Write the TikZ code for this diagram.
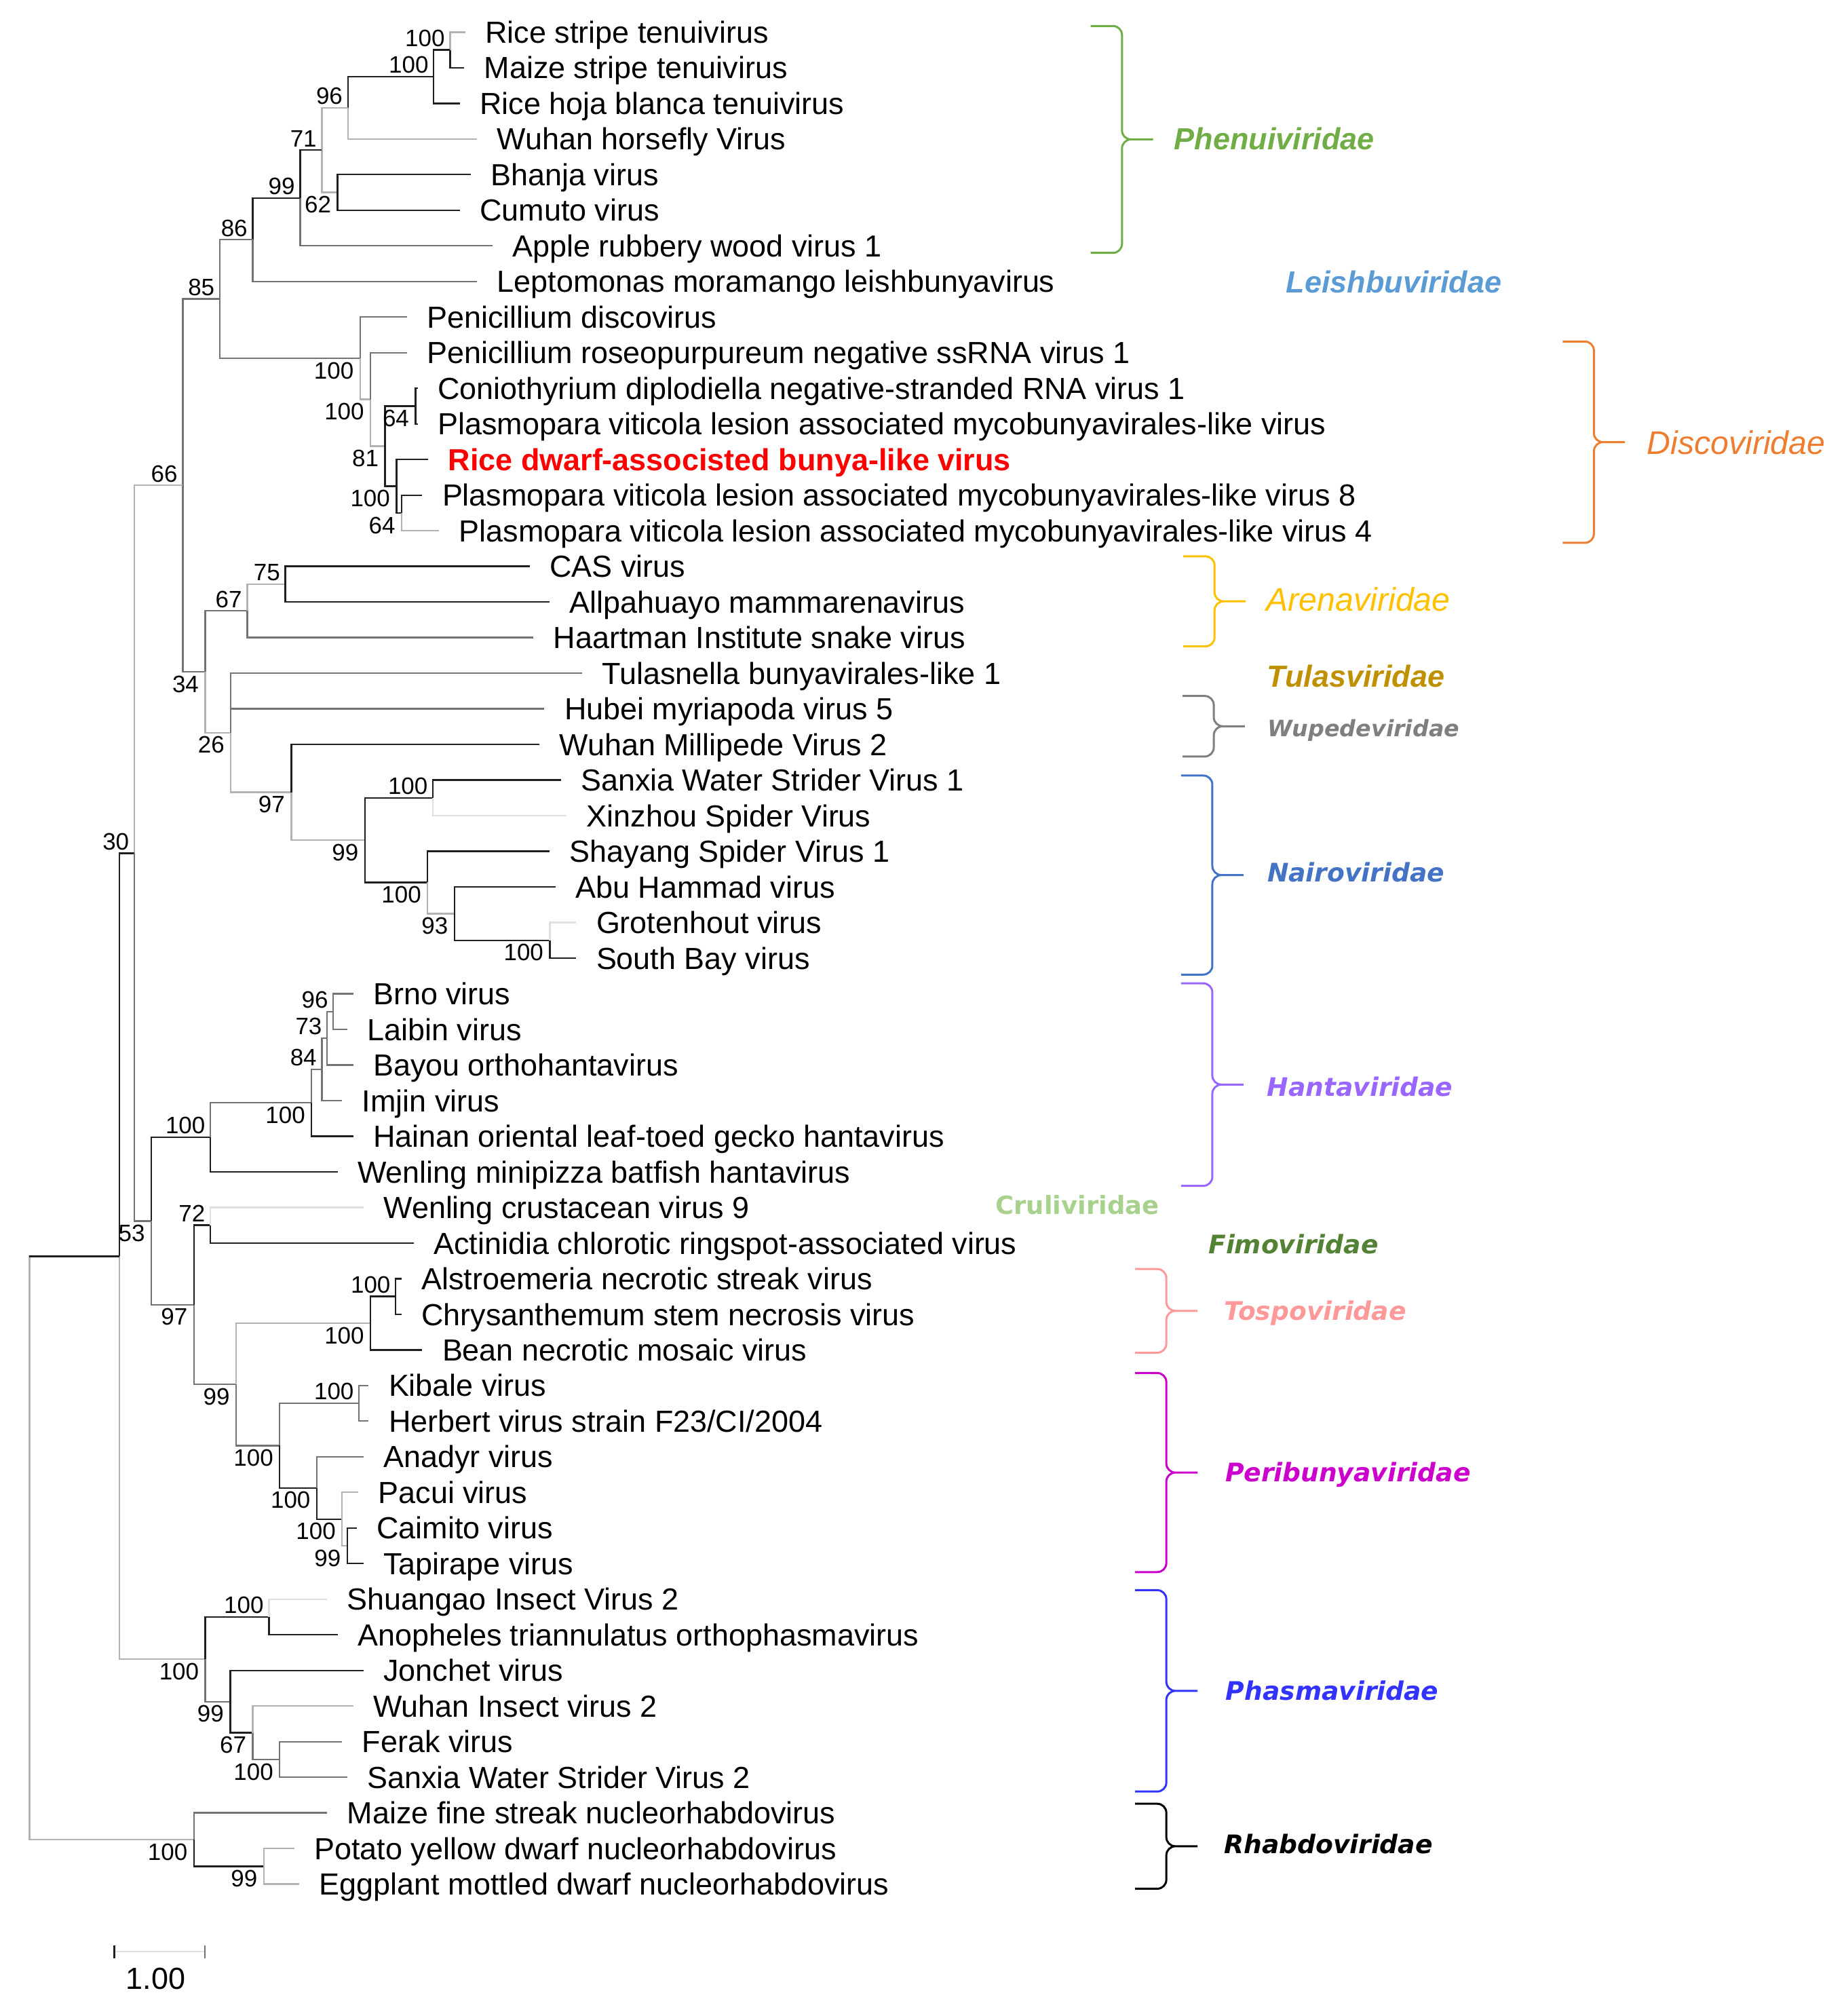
\documentclass[tikz,border=0pt]{standalone}
\usepackage{fontspec}
\setmainfont{Liberation Sans}
\newfontfamily\dvfont{DejaVu Sans}
\definecolor{brdark}{gray}{0.12}
\definecolor{brmid}{gray}{0.45}
\definecolor{brlight}{gray}{0.7}
\definecolor{brfaint}{gray}{0.88}
\definecolor{cphen}{RGB}{112,173,71}
\definecolor{cleish}{RGB}{91,155,213}
\definecolor{cdisc}{RGB}{237,125,49}
\definecolor{carena}{RGB}{255,192,0}
\definecolor{ctulas}{RGB}{191,144,0}
\definecolor{cwupe}{RGB}{127,127,127}
\definecolor{cnairo}{RGB}{68,114,196}
\definecolor{chanta}{RGB}{153,102,255}
\definecolor{ccruli}{RGB}{169,209,142}
\definecolor{cfimo}{RGB}{84,130,53}
\definecolor{ctospo}{RGB}{255,153,153}
\definecolor{cperi}{RGB}{204,0,204}
\definecolor{cphasma}{RGB}{51,51,255}
\definecolor{crhabdo}{RGB}{0,0,0}
\newcommand\tipfont{\fontsize{13.5}{16}\selectfont}
\newcommand\bsfont{\fontsize{10.5}{12}\selectfont}

\begin{document}
\begin{tikzpicture}[x=0.02cm, y=-0.02cm, line width=0.7pt,
  bdark/.style={draw=brdark}, bmid/.style={draw=brmid},
  blight/.style={draw=brlight}, bfaint/.style={draw=brfaint},
  tiplab/.style={anchor=west, inner xsep=0.3cm, inner ysep=0pt, text height=9.7pt, text depth=0pt, font=\tipfont},
  bsa/.style={anchor=south east, inner sep=0pt, text height=7.5pt, text depth=0pt, font=\bsfont, xshift=-2pt, yshift=1.2pt},
  bsb/.style={anchor=north east, inner sep=0pt, text height=7.5pt, text depth=0pt, font=\bsfont, xshift=-2.5pt, yshift=-1.2pt},
  famlab/.style={anchor=west, inner sep=0pt, text depth=0pt},
  famA/.style={font=\fontsize{13.5}{16}\selectfont\bfseries\itshape, text height=9.7pt},
  famR/.style={font=\fontsize{14.5}{17}\selectfont\itshape, text height=10.4pt},
  famV/.style={font=\dvfont\fontsize{11.3}{13}\selectfont\bfseries\itshape, text height=8.2pt},
  famW/.style={font=\dvfont\fontsize{10}{12}\selectfont\bfseries\itshape, text height=7.3pt},
  famC/.style={font=\dvfont\fontsize{11.1}{13}\selectfont\bfseries, text height=8.1pt}]
\useasboundingbox (0,0) rectangle (1434,1568);

\foreach \n/\x/\txt in {1/362/Rice stripe tenuivirus, 2/361/Maize stripe tenuivirus,
    3/357.6/Rice hoja blanca tenuivirus, 4/371.1/Wuhan horsefly Virus, 5/366.2/Bhanja virus,
    6/357.6/Cumuto virus, 7/383/Apple rubbery wood virus 1, 8/371.1/Leptomonas moramango leishbunyavirus,
    9/316.4/Penicillium discovirus, 10/316.4/Penicillium roseopurpureum negative ssRNA virus 1,
    11/325/Coniothyrium diplodiella negative-stranded RNA virus 1,
    12/325/Plasmopara viticola lesion associated mycobunyavirales-like virus,
    14/328.5/Plasmopara viticola lesion associated mycobunyavirales-like virus 8,
    15/341.5/Plasmopara viticola lesion associated mycobunyavirales-like virus 4,
    16/412/CAS virus, 17/427.7/Allpahuayo mammarenavirus, 18/415/Haartman Institute snake virus,
    19/452.8/Tulasnella bunyavirales-like 1, 20/423.5/Hubei myriapoda virus 5,
    21/419.5/Wuhan Millipede Virus 2, 22/436.2/Sanxia Water Strider Virus 1,
    23/440.7/Xinzhou Spider Virus, 24/427.7/Shayang Spider Virus 1, 25/432.2/Abu Hammad virus,
    26/448.3/Grotenhout virus, 27/448.3/South Bay virus, 28/274.7/Brno virus, 29/270.1/Laibin virus,
    30/274.7/Bayou orthohantavirus, 31/266.1/Imjin virus,
    32/274.7/Hainan oriental leaf-toed gecko hantavirus, 33/262.6/Wenling minipizza batfish hantavirus,
    34/282.8/Wenling crustacean virus 9, 35/321.8/Actinidia chlorotic ringspot-associated virus,
    36/312.4/Alstroemeria necrotic streak virus, 37/312.4/Chrysanthemum stem necrosis virus,
    38/328.5/Bean necrotic mosaic virus, 39/286.8/Kibale virus,
    40/286.8/{Herbert virus strain F23/CI/2004}, 41/282.8/Anadyr virus, 42/278.7/Pacui virus,
    43/277.4/Caimito virus, 44/282.8/Tapirape virus, 45/254.5/Shuangao Insect Virus 2,
    46/262.6/Anopheles triannulatus orthophasmavirus, 47/282.8/Jonchet virus,
    48/274.7/Wuhan Insect virus 2, 49/266.1/Ferak virus, 50/270.1/Sanxia Water Strider Virus 2,
    51/254.5/Maize fine streak nucleorhabdovirus, 52/228.9/Potato yellow dwarf nucleorhabdovirus,
    53/232.9/Eggplant mottled dwarf nucleorhabdovirus}
  {\pgfmathsetmacro\yy{25+27.7*(\n-1)}
   \node[tiplab] (t\n) at (\x,\yy) {\txt};}
\node[tiplab, text=red, font=\tipfont\bfseries] (t13) at (333.1,357.4) {Rice dwarf-associsted bunya-like virus};

\foreach \nm/\x/\y in {nA/350.1/38.85, nB/337.4/59.63, nC/270.6/83.86, nD/250.4/116.76,
    nE/262.6/149.65, nF/233.5/153.98, nG/196.6/186.44, nH/171.0/232.53, nI/280.1/278.63,
    nJ/288.2/310.65, nK/299.5/347.0, nL/323.2/315.85, nM/308.4/378.18, nN/312.4/398.95,
    nO/142.2/377.5, nQ/159.6/522.5, nR/192.3/475.13, nT/222.0/454.35, nS/179.6/569.9,
    nU/226.6/616.23, nV/336.8/620.55, nW/283.8/653.45, nX/332.6/686.34, nY/353.5/710.58,
    nZ/427.7/731.35, nP/104.5/663.6, nGa/117.7/949.7, nHa/163.7/884.6, nHb/242.4/857.7,
    nHc/250.4/831.75, nHd/254.5/807.5, nHe/259.3/786.75, nDl/163.7/952.95, nEb/150.8/1014.8,
    nEc/183.7/1076.7, nTa/288.2/1029.1, nTb/307.8/1008.35, nPa/217.6/1124.35, nPb/279.3/1091.45,
    nPc/246.4/1157.25, nPd/266.1/1181.5, nPe/270.1/1202.25, nPi/92.9/977.1, nPh/159.7/1290.55,
    nPha/209.2/1257.65, nPhb/179.1/1323.45, nPhc/196.6/1347.7, nPhd/217.6/1368.45,
    nRa/150.8/1430.8, nRb/205.2/1451.55, nRoot/22.9/1203.95}
  \coordinate (\nm) at (\x,\y);

\foreach \p/\c/\s in {nA/t1/blight, nA/t2/bdark, nB/nA/bdark, nB/t3/bdark, nC/nB/bdark,
    nC/t4/blight, nD/nC/blight, nD/nE/blight, nE/t5/bdark, nE/t6/bdark, nF/nD/bdark, nF/t7/bmid,
    nG/nF/bdark, nG/t8/bmid, nH/nG/bmid, nH/nI/bmid, nI/t9/bmid, nI/nJ/blight, nJ/t10/bmid,
    nJ/nK/blight, nK/nL/bdark, nL/t11/bdark, nL/t12/bdark, nK/nM/bdark, nM/t13/bdark,
    nM/nN/bdark, nN/t14/bdark, nN/t15/blight, nO/nH/bmid, nO/nQ/bmid, nP/nO/blight,
    nQ/nR/bmid, nR/nT/blight, nT/t16/bdark, nT/t17/bdark, nR/t18/bmid, nQ/nS/blight,
    nS/t19/bmid, nS/t20/bmid, nS/nU/blight, nU/t21/bdark, nU/nW/blight, nW/nV/bdark,
    nV/t22/bdark, nV/t23/bfaint, nW/nX/bdark, nX/t24/bdark, nX/nY/blight, nY/t25/bdark,
    nY/nZ/bdark, nZ/t26/bfaint, nZ/t27/bdark, nPi/nP/bdark, nP/nGa/bmid, nGa/nHa/bdark,
    nHa/nHb/bmid, nHa/t33/bdark, nHb/nHc/bmid, nHb/t32/bdark, nHc/nHd/bmid, nHc/t31/bmid,
    nHd/nHe/bmid, nHd/t30/bmid, nHe/t28/bmid, nHe/t29/bmid, nGa/nEb/bmid, nEb/nDl/bdark,
    nDl/t34/bfaint, nDl/t35/bdark, nEb/nEc/bmid, nEc/nTa/blight, nTa/nTb/bdark, nTb/t36/bdark,
    nTb/t37/bdark, nTa/t38/bdark, nEc/nPa/bmid, nPa/nPb/bmid, nPb/t39/bmid, nPb/t40/bmid,
    nPa/nPc/bdark, nPc/t41/bmid, nPc/nPd/bdark, nPd/t42/blight, nPd/nPe/blight, nPe/t43/bdark,
    nPe/t44/bdark, nRoot/nPi/blight, nPi/nPh/blight, nPh/nPha/bdark, nPha/t45/bfaint,
    nPha/t46/bdark, nPh/nPhb/bmid, nPhb/t47/bdark, nPhb/nPhc/bdark, nPhc/t48/blight,
    nPhc/nPhd/bmid, nPhd/t49/bmid, nPhd/t50/bmid, nRoot/nRa/blight, nRa/t51/bmid,
    nRa/nRb/bdark, nRb/t52/blight, nRb/t53/blight}
  \draw[\s] (\p) |- (\c);
\draw[bdark] (nRoot |- nPi) -- (nPi);

\foreach \nd/\v in {nA/100, nB/100, nC/96, nD/71, nF/99, nG/86, nH/85, nO/66, nR/67, nT/75,
    nV/100, nP/30, nHa/100, nHc/84, nHd/73, nHe/96, nDl/72, nTb/100, nPb/100, nPha/100}
  \node[bsa] (b\nd) at (\nd) {\v};
\foreach \nd/\v in {nE/62, nI/100, nJ/100, nK/81, nL/64, nM/100, nN/64, nQ/34, nS/26, nU/97,
    nW/99, nX/100, nY/93, nZ/100, nGa/53, nHb/100, nEb/97, nEc/99, nTa/100, nPa/100, nPc/100,
    nPd/100, nPe/99, nPh/100, nPhb/99, nPhc/67, nPhd/100, nRa/100, nRb/99}
  \node[bsb] (b\nd) at (\nd) {\v};

\foreach \xe/\yt/\yb/\col in {848.5/20.2/196.7/cphen, 1215.6/265.6/422.2/cdisc,
    920.5/432.7/502.7/carena, 919.9/541.3/588.4/cwupe, 918.8/603.2/758.0/cnairo,
    918.8/764.8/922.3/chanta, 883/987/1052.1/ctospo, 883/1067.9/1222.7/cperi,
    883/1236.8/1393.4/cphasma, 883/1402.9/1469/crhabdo}
  \draw[\col, line width=0.9pt, rounded corners=4pt]
    (\xe,\yt) -| ({\xe+24.3},{(\yt+\yb)/2}) -- ({\xe+48.5},{(\yt+\yb)/2})
    (\xe,\yb) -| ({\xe+24.3},{(\yt+\yb)/2}) -- ({\xe+48.5},{(\yt+\yb)/2});

\node[famlab, famA, text=cphen] (fPhen) at (912.8,108) {Phenuiviridae};
\node[famlab, famA, text=cleish] (fLeish) at (1000,219) {Leishbuviridae};
\node[famlab, famR, text=cdisc] (fDisc) at (1280.6,344) {Discoviridae};
\node[famlab, famR, text=carena] (fArena) at (984.5,466) {Arenaviridae};
\node[famlab, famA, text=ctulas] (fTulas) at (985,526) {Tulasviridae};
\node[famlab, famW, text=cwupe] (fWupe) at (985.3,566.3) {Wupedeviridae};
\node[famlab, famV, text=cnairo] (fNairo) at (985.3,678.6) {Nairoviridae};
\node[famlab, famV, text=chanta] (fHanta) at (985,845.6) {Hantaviridae};
\node[famlab, famC, text=ccruli] (fCruli) at (773.9,937.4) {Cruliviridae};
\node[famlab, famV, text=cfimo] (fFimo) at (939.5,967.6) {Fimoviridae};
\node[famlab, famV, text=ctospo] (fTospo) at (951.6,1019.3) {Tospoviridae};
\node[famlab, famV, text=cperi] (fPeri) at (953,1145.3) {Peribunyaviridae};
\node[famlab, famV, text=cphasma] (fPhasma) at (953,1314.9) {Phasmaviridae};
\node[famlab, famV, text=crhabdo] (fRhabdo) at (951.6,1434.5) {Rhabdoviridae};

\coordinate (sbL) at (88.9,1518);
\coordinate (sbR) at (159.4,1518);
\draw[bfaint] (sbL) -- (sbR);
\draw[bdark] (sbL) ++(0,-5) -- ++(0,10);
\draw[bmid] (sbR) ++(0,-5) -- ++(0,10);
\node[tiplab, inner xsep=0pt, anchor=center] (sbLab) at (121,1538.5) {1.00};
\end{tikzpicture}
\end{document}
